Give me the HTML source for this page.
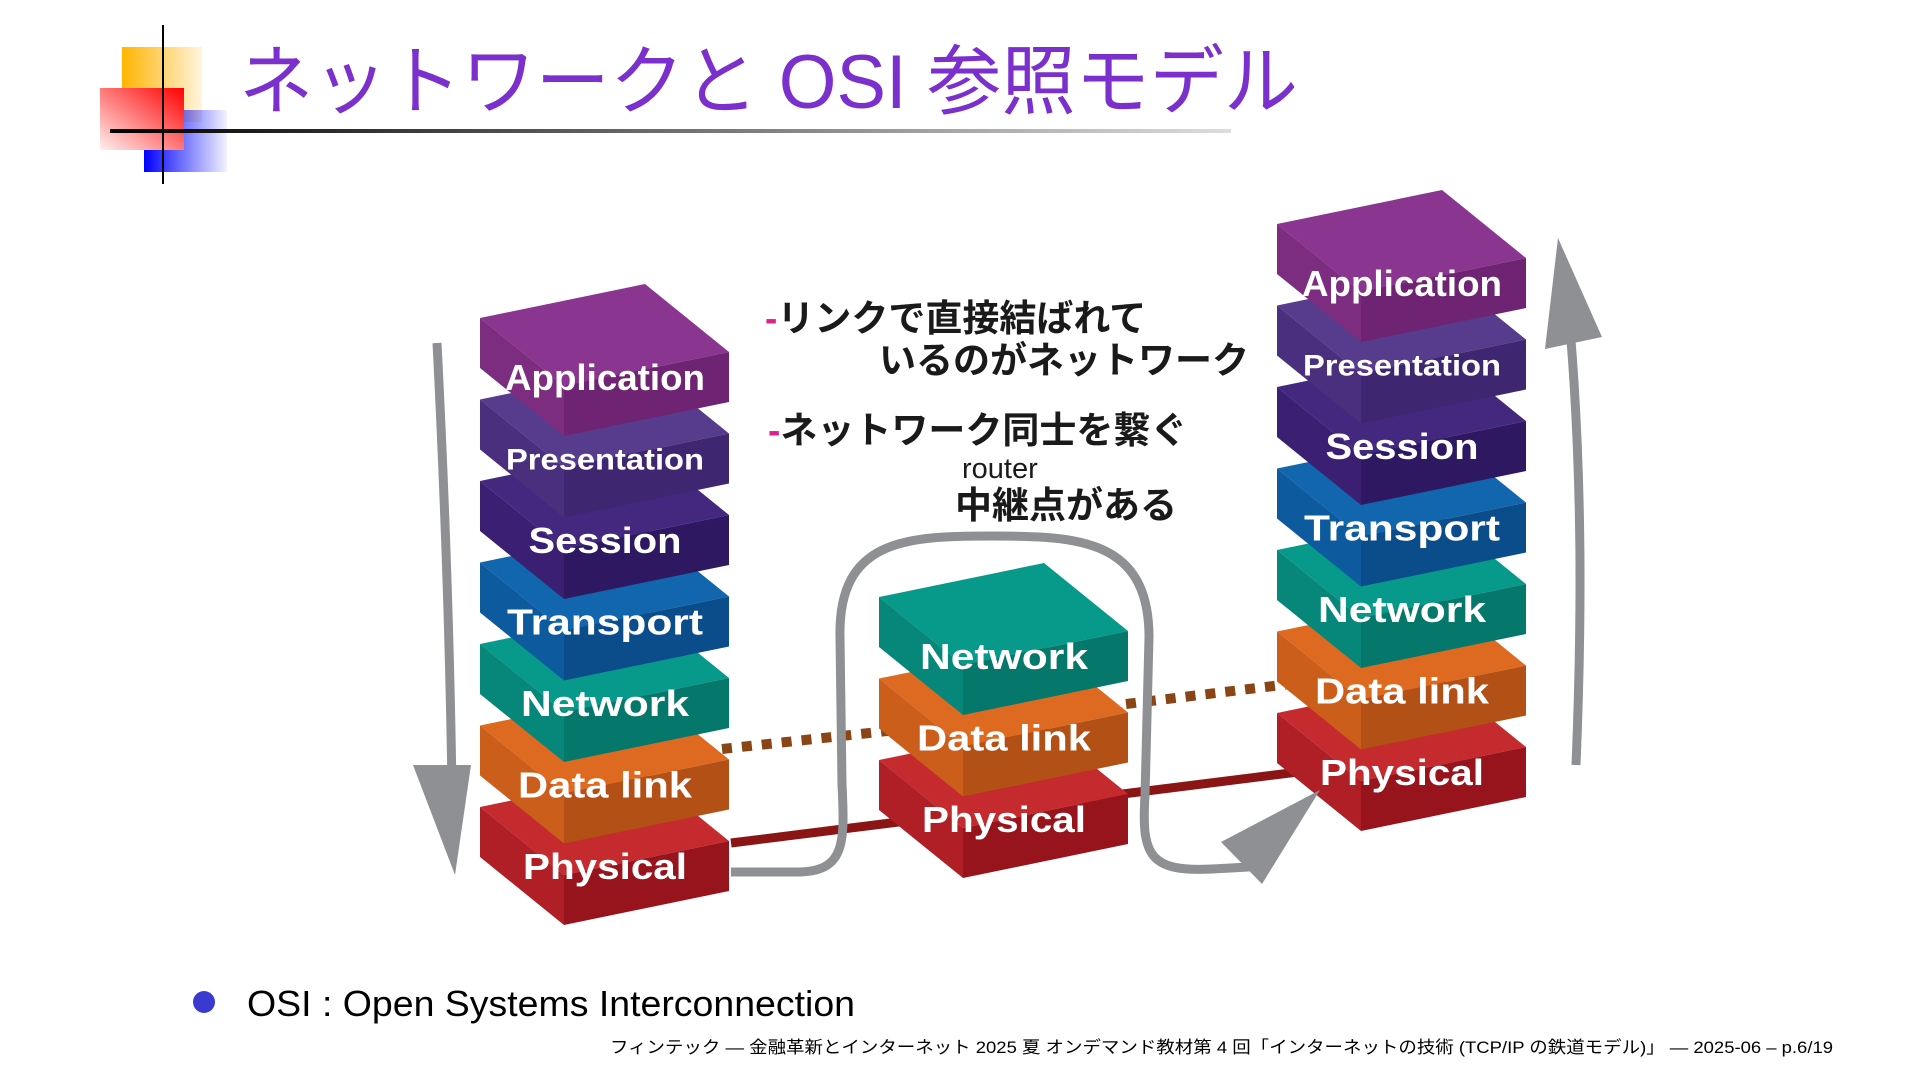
<!DOCTYPE html>
<html><head><meta charset="utf-8"><style>
html,body{margin:0;padding:0;background:#fff;}
svg{display:block;}
.lb{font-family:"Liberation Sans","DejaVu Sans",sans-serif;font-weight:bold;fill:#fff;text-anchor:middle;}
.jp{font-family:"Liberation Sans","Noto Sans CJK JP",sans-serif;font-weight:bold;fill:#1a1a1a;}
</style></head><body>
<svg width="1920" height="1081" viewBox="0 0 1920 1081" xmlns="http://www.w3.org/2000/svg">
<defs>
<linearGradient id="gy" x1="0" x2="1" y1="0" y2="0"><stop offset="0" stop-color="#ffb400"/><stop offset="1" stop-color="#fff4dc"/></linearGradient>
<linearGradient id="gr" x1="1" x2="0" y1="0" y2="1"><stop offset="0" stop-color="#ff0000"/><stop offset="1" stop-color="#fff0f0"/></linearGradient>
<linearGradient id="gb" x1="0" x2="1" y1="0" y2="0"><stop offset="0" stop-color="#0000ff"/><stop offset="1" stop-color="#0000ff" stop-opacity="0.05"/></linearGradient>
<linearGradient id="gl" x1="0" x2="1" y1="0" y2="0"><stop offset="0" stop-color="#000"/><stop offset="1" stop-color="#ddd"/></linearGradient>
</defs>
<!-- title decoration -->
<rect x="122" y="47" width="80" height="75" fill="url(#gy)"/>
<rect x="144" y="110" width="83" height="62" fill="url(#gb)"/>
<rect x="100" y="88" width="84" height="62" fill="url(#gr)"/>
<line x1="163" y1="25" x2="163" y2="184" stroke="#000" stroke-width="2"/>
<rect x="110" y="129" width="1121" height="4" fill="url(#gl)"/>
<text x="239" y="108" font-family="'Liberation Sans','Noto Sans CJK JP',sans-serif" font-size="76" fill="#7b2fcc" textLength="1059" lengthAdjust="spacingAndGlyphs">ネットワークと OSI 参照モデル</text>

<!-- links behind -->
<line x1="731" y1="843" x2="1322" y2="769" stroke="#8b1414" stroke-width="9"/>
<line x1="722" y1="749" x2="906" y2="729" stroke="#8a4516" stroke-width="10" stroke-dasharray="10,10"/>
<line x1="1126" y1="704" x2="1298" y2="683" stroke="#8a4516" stroke-width="10" stroke-dasharray="10,10"/>

<!-- gray arrows -->
<path d="M437,343 C445,500 450,650 452,790" fill="none" stroke="#8e9094" stroke-width="9"/>
<polygon points="455,875 413,765 471,765" fill="#8e9094"/>
<path d="M1576,765 C1582,620 1582,480 1571,340" fill="none" stroke="#8e9094" stroke-width="9"/>
<polygon points="1558,238 1545,349 1602,337" fill="#8e9094"/>

<!-- LEFT STACK (bottom to top) -->
<g transform="translate(480,807)"><polygon points="0,0 165,-34 249,34 84,68" fill="#c42a2e"/><polygon points="0,0 84,68 84,118 0,50" fill="#b01f26"/><polygon points="84,68 249,34 249,84 84,118" fill="#98141c"/><text class="lb" x="125" y="72" font-size="36" textLength="164" lengthAdjust="spacingAndGlyphs">Physical</text></g>
<g transform="translate(480,725.5)"><polygon points="0,0 165,-34 249,34 84,68" fill="#de6a22"/><polygon points="0,0 84,68 84,118 0,50" fill="#cc5e1c"/><polygon points="84,68 249,34 249,84 84,118" fill="#b35016"/><text class="lb" x="125" y="72" font-size="36" textLength="174" lengthAdjust="spacingAndGlyphs">Data link</text></g>
<g transform="translate(480,644)"><polygon points="0,0 165,-34 249,34 84,68" fill="#07998a"/><polygon points="0,0 84,68 84,118 0,50" fill="#06877a"/><polygon points="84,68 249,34 249,84 84,118" fill="#05776b"/><text class="lb" x="125" y="72" font-size="36" textLength="168" lengthAdjust="spacingAndGlyphs">Network</text></g>
<g transform="translate(480,562.5)"><polygon points="0,0 165,-34 249,34 84,68" fill="#1266ad"/><polygon points="0,0 84,68 84,118 0,50" fill="#0e5a9e"/><polygon points="84,68 249,34 249,84 84,118" fill="#0b4c8a"/><text class="lb" x="125" y="72" font-size="36" textLength="196" lengthAdjust="spacingAndGlyphs">Transport</text></g>
<g transform="translate(480,481)"><polygon points="0,0 165,-34 249,34 84,68" fill="#44287f"/><polygon points="0,0 84,68 84,118 0,50" fill="#3a1f72"/><polygon points="84,68 249,34 249,84 84,118" fill="#2f1862"/><text class="lb" x="125" y="72" font-size="36" textLength="153" lengthAdjust="spacingAndGlyphs">Session</text></g>
<g transform="translate(480,399.5)"><polygon points="0,0 165,-34 249,34 84,68" fill="#573b8c"/><polygon points="0,0 84,68 84,118 0,50" fill="#4a2f7e"/><polygon points="84,68 249,34 249,84 84,118" fill="#3f2670"/><text class="lb" x="125" y="70" font-size="30" textLength="198" lengthAdjust="spacingAndGlyphs">Presentation</text></g>
<g transform="translate(480,318)"><polygon points="0,0 165,-34 249,34 84,68" fill="#8a3590"/><polygon points="0,0 84,68 84,118 0,50" fill="#7d2d80"/><polygon points="84,68 249,34 249,84 84,118" fill="#6e2472"/><text class="lb" x="125" y="72" font-size="36" textLength="200" lengthAdjust="spacingAndGlyphs">Application</text></g>

<!-- MIDDLE STACK -->
<g transform="translate(879,760)"><polygon points="0,0 165,-34 249,34 84,68" fill="#c42a2e"/><polygon points="0,0 84,68 84,118 0,50" fill="#b01f26"/><polygon points="84,68 249,34 249,84 84,118" fill="#98141c"/><text class="lb" x="125" y="72" font-size="36" textLength="164" lengthAdjust="spacingAndGlyphs">Physical</text></g>
<g transform="translate(879,678.5)"><polygon points="0,0 165,-34 249,34 84,68" fill="#de6a22"/><polygon points="0,0 84,68 84,118 0,50" fill="#cc5e1c"/><polygon points="84,68 249,34 249,84 84,118" fill="#b35016"/><text class="lb" x="125" y="72" font-size="36" textLength="174" lengthAdjust="spacingAndGlyphs">Data link</text></g>
<g transform="translate(879,597)"><polygon points="0,0 165,-34 249,34 84,68" fill="#07998a"/><polygon points="0,0 84,68 84,118 0,50" fill="#06877a"/><polygon points="84,68 249,34 249,84 84,118" fill="#05776b"/><text class="lb" x="125" y="72" font-size="36" textLength="168" lengthAdjust="spacingAndGlyphs">Network</text></g>

<!-- RIGHT STACK -->
<g transform="translate(1277,713)"><polygon points="0,0 165,-34 249,34 84,68" fill="#c42a2e"/><polygon points="0,0 84,68 84,118 0,50" fill="#b01f26"/><polygon points="84,68 249,34 249,84 84,118" fill="#98141c"/><text class="lb" x="125" y="72" font-size="36" textLength="164" lengthAdjust="spacingAndGlyphs">Physical</text></g>
<g transform="translate(1277,631.5)"><polygon points="0,0 165,-34 249,34 84,68" fill="#de6a22"/><polygon points="0,0 84,68 84,118 0,50" fill="#cc5e1c"/><polygon points="84,68 249,34 249,84 84,118" fill="#b35016"/><text class="lb" x="125" y="72" font-size="36" textLength="174" lengthAdjust="spacingAndGlyphs">Data link</text></g>
<g transform="translate(1277,550)"><polygon points="0,0 165,-34 249,34 84,68" fill="#07998a"/><polygon points="0,0 84,68 84,118 0,50" fill="#06877a"/><polygon points="84,68 249,34 249,84 84,118" fill="#05776b"/><text class="lb" x="125" y="72" font-size="36" textLength="168" lengthAdjust="spacingAndGlyphs">Network</text></g>
<g transform="translate(1277,468.5)"><polygon points="0,0 165,-34 249,34 84,68" fill="#1266ad"/><polygon points="0,0 84,68 84,118 0,50" fill="#0e5a9e"/><polygon points="84,68 249,34 249,84 84,118" fill="#0b4c8a"/><text class="lb" x="125" y="72" font-size="36" textLength="196" lengthAdjust="spacingAndGlyphs">Transport</text></g>
<g transform="translate(1277,387)"><polygon points="0,0 165,-34 249,34 84,68" fill="#44287f"/><polygon points="0,0 84,68 84,118 0,50" fill="#3a1f72"/><polygon points="84,68 249,34 249,84 84,118" fill="#2f1862"/><text class="lb" x="125" y="72" font-size="36" textLength="153" lengthAdjust="spacingAndGlyphs">Session</text></g>
<g transform="translate(1277,305.5)"><polygon points="0,0 165,-34 249,34 84,68" fill="#573b8c"/><polygon points="0,0 84,68 84,118 0,50" fill="#4a2f7e"/><polygon points="84,68 249,34 249,84 84,118" fill="#3f2670"/><text class="lb" x="125" y="70" font-size="30" textLength="198" lengthAdjust="spacingAndGlyphs">Presentation</text></g>
<g transform="translate(1277,224)"><polygon points="0,0 165,-34 249,34 84,68" fill="#8a3590"/><polygon points="0,0 84,68 84,118 0,50" fill="#7d2d80"/><polygon points="84,68 249,34 249,84 84,118" fill="#6e2472"/><text class="lb" x="125" y="72" font-size="36" textLength="200" lengthAdjust="spacingAndGlyphs">Application</text></g>

<!-- loop path -->
<path d="M731,872 L796,872 C845,872 845,845 842,784 L840,637 C838,539 906,536 992,536 C1078,536 1149,539 1149,637 L1145,796 C1141,857 1151,872 1212,869 L1249,867" fill="none" stroke="#8e9094" stroke-width="9"/>
<polygon points="1320,790 1221,842 1262,884" fill="#8e9094"/>

<!-- middle text -->
<text class="jp" x="765" y="331" font-size="37"><tspan fill="#e0208a">-</tspan>リンクで直接結ばれて</text>
<text class="jp" x="879" y="373" font-size="37">いるのがネットワーク</text>
<text class="jp" x="768" y="443" font-size="37"><tspan fill="#e0208a">-</tspan>ネットワーク同士を繋ぐ</text>
<text x="962" y="478" font-size="29" font-family="'Liberation Sans',sans-serif" fill="#1a1a1a">router</text>
<text class="jp" x="955" y="518" font-size="37">中継点がある</text>

<!-- bullet -->
<circle cx="204" cy="1002" r="11" fill="#3a3ad0"/>
<text x="247" y="1016" font-size="36" font-family="'Liberation Sans',sans-serif" fill="#000" textLength="608" lengthAdjust="spacingAndGlyphs">OSI : Open Systems Interconnection</text>

<!-- footer -->
<text x="610" y="1053" font-size="17" font-family="'Liberation Sans','Noto Sans CJK JP',sans-serif" fill="#000" textLength="1223" lengthAdjust="spacingAndGlyphs">フィンテック — 金融革新とインターネット 2025 夏 オンデマンド教材第 4 回「インターネットの技術 (TCP/IP の鉄道モデル)」 — 2025-06 – p.6/19</text>
</svg>
</body></html>
